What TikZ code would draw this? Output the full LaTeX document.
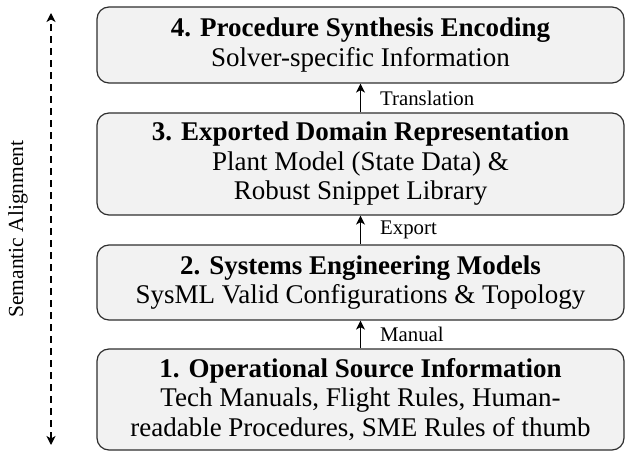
\documentclass[tikz,border=0pt]{standalone}
\usepackage{fontspec}
\setmainfont{Liberation Serif}
\usetikzlibrary{arrows.meta}
\definecolor{boxfill}{HTML}{F2F2F2}
\definecolor{boxline}{HTML}{2E2E2E}
\tikzset{
  layerbox/.style={draw=boxline, fill=boxfill, line width=1.2pt, rounded corners=12pt,
    minimum width=527pt, align=center, inner sep=0pt,
    font=\fontsize{27}{29.5}\selectfont},
  tip/.style={Stealth[length=9pt,width=9pt,inset=2.5pt]},
  flowarrow/.style={line width=1.4pt, -{Stealth[length=9pt,width=9pt,inset=2.5pt]}},
  flowlabel/.style={anchor=west, inner sep=0pt, font=\fontsize{20.8}{24}\selectfont},
}
\begin{document}
\begin{tikzpicture}[x=1pt,y=-1pt]
\useasboundingbox (0,0) rectangle (631,454);
\node[layerbox, minimum height=76pt] (b4) at (360.5,45)
  {\textbf{4. Procedure Synthesis Encoding}\\Solver-specific Information};
\node[layerbox, minimum height=102pt] (b3) at (360.5,164)
  {\textbf{3. Exported Domain Representation}\\Plant Model (State Data) \&\\Robust Snippet Library};
\node[layerbox, minimum height=75pt] (b2) at (360.5,282.5)
  {\textbf{2. Systems Engineering Models}\\SysML Valid Configurations \& Topology};
\node[layerbox, minimum height=101pt] (b1) at (360.5,399.5)
  {\textbf{1. Operational Source Information}\\Tech Manuals, Flight Rules, Human-\\readable Procedures, SME Rules of thumb};
\draw[flowarrow] (b1.north) -- node[flowlabel, xshift=19pt] (l1) {Manual} (b2.south);
\draw[flowarrow] (b2.north) -- node[flowlabel, xshift=19pt] (l2) {Export} (b3.south);
\draw[flowarrow] (b3.north) -- node[flowlabel, xshift=19pt] (l3) {Translation} (b4.south);
\coordinate (sa) at (51,445);
\coordinate (sb) at (51,13);
\draw[line width=1.5pt, dash pattern=on 7pt off 5pt,
  {Stealth[length=9pt,width=9pt,inset=2.5pt]}-{Stealth[length=9pt,width=9pt,inset=2.5pt]}] (sa) -- (sb);
\node[rotate=90, inner sep=0pt, font=\fontsize{21.5}{25}\selectfont] (sem) at (18,229) {Semantic Alignment};
\end{tikzpicture}
\end{document}
